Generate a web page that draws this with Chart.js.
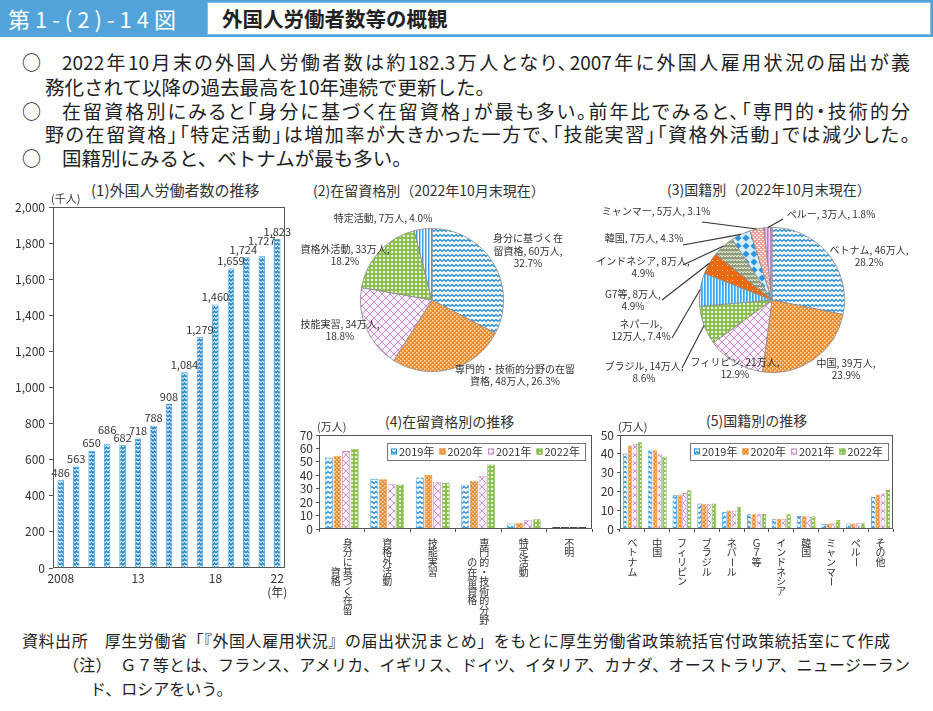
<!DOCTYPE html>
<html lang="ja">
<head>
<meta charset="utf-8">
<script src="https://cdn.jsdelivr.net/npm/chart.js@4.4.0/dist/chart.umd.min.js"></script>
<style>
body{margin:0;width:933px;height:711px;background:#fff;position:relative;overflow:hidden;font-family:"Noto Sans CJK JP","Noto Sans",sans-serif;color:#222}
.abs{position:absolute}
#hdr{left:0;top:0;width:933px;height:37px;background:#52a3da}
#hdrNo{left:8px;top:3px;color:#fff;font-size:22px;line-height:30px;letter-spacing:5px;white-space:nowrap}
#hdrBox{left:207px;top:2px;width:722px;height:31px;background:#fff;border:1px solid #7fbde6}
#hdrTitle{left:14px;top:0;font-size:20.5px;line-height:31px;font-weight:bold;white-space:nowrap}
.circ{left:22px;font-size:19px;line-height:24px}
.ln{font-size:19.5px;line-height:24px;white-space:nowrap}
.jl{font-size:19px;line-height:24px;white-space:nowrap;text-align:justify;text-align-last:justify;font-feature-settings:"palt"}
.ttl{font-size:14px;line-height:18px;color:#333;white-space:nowrap}
.ft{font-size:16px;line-height:24px;white-space:nowrap}
.ftj{font-size:16px;line-height:24px;white-space:nowrap;text-align:justify;text-align-last:justify}
canvas{position:absolute}
</style>
</head>
<body>
<div id="hdr" class="abs"><div id="hdrNo" class="abs">第1-(2)-14図</div><div id="hdrBox" class="abs"><div id="hdrTitle" class="abs">外国人労働者数等の概観</div></div></div>

<div class="abs circ" style="top:50px">○</div>
<div class="abs jl" style="left:62px;top:50px;width:848px">2022年10月末の外国人労働者数は約182.3万人となり、2007年に外国人雇用状況の届出が義</div>
<div class="abs ln" style="left:45px;top:75px">務化されて以降の過去最高を10年連続で更新した。</div>
<div class="abs circ" style="top:99px">○</div>
<div class="abs jl" style="left:62px;top:99px;width:848px">在留資格別にみると「身分に基づく在留資格」が最も多い。前年比でみると、「専門的・技術的分</div>
<div class="abs jl" style="left:45px;top:122px;width:865px">野の在留資格」「特定活動」は増加率が大きかった一方で、「技能実習」「資格外活動」では減少した。</div>
<div class="abs circ" style="top:146px">○</div>
<div class="abs ln" style="left:62px;top:146px">国籍別にみると、ベトナムが最も多い。</div>

<div class="abs ttl" style="left:91px;top:181px;font-size:15px">(1)外国人労働者数の推移</div>
<div class="abs ttl" style="left:313px;top:181px">(2)在留資格別（2022年10月末現在）</div>
<div class="abs ttl" style="left:667px;top:180px">(3)国籍別（2022年10月末現在）</div>
<div class="abs ttl" style="left:385px;top:412px">(4)在留資格別の推移</div>
<div class="abs ttl" style="left:706px;top:411px">(5)国籍別の推移</div>

<canvas id="c1" width="300" height="430" style="left:0;top:178px"></canvas>
<canvas id="c2" width="300" height="225" style="left:290px;top:178px"></canvas>
<canvas id="c3" width="343" height="225" style="left:590px;top:178px"></canvas>
<canvas id="c4" width="310" height="210" style="left:290px;top:415px"></canvas>
<canvas id="c5" width="338" height="210" style="left:595px;top:415px"></canvas>

<div class="abs ftj" style="left:22px;top:628px;width:868px">資料出所　厚生労働省「『外国人雇用状況』の届出状況まとめ」をもとに厚生労働省政策統括官付政策統括室にて作成</div>
<div class="abs ftj" style="left:63px;top:652px;width:847px">（注）　Ｇ７等とは、フランス、アメリカ、イギリス、ドイツ、イタリア、カナダ、オーストラリア、ニュージーラン</div>
<div class="abs ft" style="left:90px;top:676px">ド、ロシアをいう。</div>

<script>
const $ = id => document.getElementById(id);
const FONT = '"Noto Sans CJK JP","Noto Sans",sans-serif';
Chart.defaults.font.family = FONT;
Chart.defaults.color = '#333';

// (1) 外国人労働者数（千人）
const years = ['2008','2009','2010','2011','2012','2013','2014','2015','2016','2017','2018','2019','2020','2021','2022'];
const yearTicks = ['2008','','','','','13','','','','','18','','','',['22','(年)']];
const workers = [486,563,650,686,682,718,788,908,1084,1279,1460,1659,1724,1727,1823];
// ラベルが重なる所だけずらす（px）
const labelShift = { 3:[0,-7], 12:[-3,0], 13:[0,-8] };

// (2) 在留資格別 2022年10月末
const statusPieNames = ['身分に基づく在留資格','専門的・技術的分野の在留資格','技能実習','資格外活動','特定活動'];
const statusPieMan = [60,48,34,33,7];
const statusPiePct = [32.7,26.3,18.8,18.2,4.0];
const statusPieText = [
  ['身分に基づく在','留資格, 60万人,','32.7%'],
  ['専門的・技術的分野の在留','資格, 48万人, 26.3%'],
  ['技能実習, 34万人,','18.8%'],
  ['資格外活動, 33万人,','18.2%'],
  ['特定活動, 7万人, 4.0%']
];

// (3) 国籍別 2022年10月末
const natPieNames = ['ベトナム','中国','フィリピン','ブラジル','ネパール','G7等','インドネシア','韓国','ミャンマー','ペルー'];
const natPieMan = [46,39,21,14,12,8,8,7,5,3];
const natPiePct = [28.2,23.9,12.9,8.6,7.4,4.9,4.9,4.3,3.1,1.8];
const natPieText = [
  ['ベトナム, 46万人,','28.2%'],
  ['中国, 39万人,','23.9%'],
  ['フィリピン, 21万人,','12.9%'],
  ['ブラジル, 14万人,','8.6%'],
  ['ネパール,','12万人, 7.4%'],
  ['G7等, 8万人,','4.9%'],
  ['インドネシア, 8万人,','4.9%'],
  ['韓国, 7万人, 4.3%'],
  ['ミャンマー, 5万人, 3.1%'],
  ['ペルー, 3万人, 1.8%']
];

// (4) 在留資格別の推移（万人）
const seriesYears = ['2019年','2020年','2021年','2022年'];
const statusCats = ['身分に基づく在留資格','資格外活動','技能実習','専門的・技術的分野の在留資格','特定活動','不明'];
const statusTickCols = [['身分に基づく在留','資格'],['資格外活動'],['技能実習'],['専門的・技術的分野','の在留資格'],['特定活動'],['不明']];
const status2019 = [53.2,37.3,38.4,32.9,4.1,0.05];
const status2020 = [54.6,37.0,40.2,36.0,4.6,0.05];
const status2021 = [58.0,33.4,35.2,39.5,6.6,0.05];
const status2022 = [59.6,33.1,34.3,48.0,7.3,0.05];

// (5) 国籍別の推移（万人）
const nations = ['ベトナム','中国','フィリピン','ブラジル','ネパール','Ｇ７等','インドネシア','韓国','ミャンマー','ペルー','その他'];
const nat2019 = [40.1,41.8,17.9,13.5,9.2,7.8,5.2,6.9,2.7,2.9,17.1];
const nat2020 = [44.4,41.9,18.4,13.1,9.9,7.9,5.4,6.8,2.9,2.9,18.3];
const nat2021 = [45.3,39.7,19.1,13.4,9.8,7.9,5.3,6.7,3.1,3.1,18.9];
const nat2022 = [46.2,38.5,20.6,13.5,11.8,8.0,7.8,6.8,4.8,3.1,20.7];

// パターン
function tile(w, h, draw){
  const c = document.createElement('canvas'); c.width = w; c.height = h;
  const g = c.getContext('2d'); draw(g, w, h);
  return g.createPattern(c, 'repeat');
}
const PAT = {
  wave: tile(8,5,g=>{ g.fillStyle='#fff'; g.fillRect(0,0,8,5); g.strokeStyle='#2b8fd6'; g.lineWidth=1.3;
    g.beginPath(); g.moveTo(0,3.5); g.lineTo(2,1.5); g.lineTo(4,3.5); g.lineTo(6,1.5); g.lineTo(8,3.5); g.stroke(); }),
  waveBar: tile(6,4,g=>{ g.fillStyle='#e8f4fc'; g.fillRect(0,0,6,4); g.strokeStyle='#2789d2'; g.lineWidth=1.5;
    g.beginPath(); g.moveTo(0,3); g.lineTo(1.5,1); g.lineTo(3,3); g.lineTo(4.5,1); g.lineTo(6,3); g.stroke(); }),
  dots: tile(4,4,g=>{ g.fillStyle='#f08a2a'; g.fillRect(0,0,4,4); g.fillStyle='#fde2c4'; g.fillRect(0,0,1.5,1.5); g.fillRect(2,2,1.5,1.5); }),
  lattice: tile(8,8,g=>{ g.fillStyle='#fdf3fd'; g.fillRect(0,0,8,8); g.strokeStyle='#cf8ccf'; g.lineWidth=1;
    g.beginPath(); g.moveTo(0,0); g.lineTo(8,8); g.moveTo(8,0); g.lineTo(0,8); g.stroke(); }),
  grid: tile(4,4,g=>{ g.fillStyle='#8cc152'; g.fillRect(0,0,4,4); g.fillStyle='#eef7e4'; g.fillRect(1,1,2,2); }),
  vstripe: tile(3,3,g=>{ g.fillStyle='#fff'; g.fillRect(0,0,3,3); g.fillStyle='#3d9de0'; g.fillRect(0,0,1.5,3); }),
  nepal: tile(3,3,g=>{ g.fillStyle='#e4f4fd'; g.fillRect(0,0,3,3); g.fillStyle='#35a7ee'; g.fillRect(0,0,1.7,3); }),
  g7: tile(5,5,g=>{ g.fillStyle='#eb6a10'; g.fillRect(0,0,5,5); g.fillStyle='rgba(255,255,255,0.7)'; g.fillRect(2,2,1,1); }),
  indo: tile(6,4,g=>{ g.fillStyle='#8e9c78'; g.fillRect(0,0,6,4); g.strokeStyle='#eef0e6'; g.lineWidth=1;
    g.beginPath(); g.moveTo(0,3); g.lineTo(1.5,1); g.lineTo(3,3); g.lineTo(4.5,1); g.lineTo(6,3); g.stroke(); }),
  korea: tile(8,8,g=>{ g.fillStyle='#d5ecfa'; g.fillRect(0,0,8,8); g.fillStyle='#2c93de';
    g.beginPath(); g.moveTo(4,0.5); g.lineTo(7.5,4); g.lineTo(4,7.5); g.lineTo(0.5,4); g.closePath(); g.fill(); }),
  myanmar: tile(4,4,g=>{ g.fillStyle='#f4a39b'; g.fillRect(0,0,4,4); g.fillStyle='#fff'; g.fillRect(0,1,2,1); g.fillRect(2,3,2,1); }),
  peru: tile(3,3,g=>{ g.fillStyle='#efd5f0'; g.fillRect(0,0,3,3); g.fillStyle='#c274c8'; g.fillRect(0,0,1.5,3); })
};
const SERIES_FILL = [PAT.wave, PAT.dots, PAT.lattice, PAT.grid];
const SERIES_EDGE = ['#2b8fd6','#ef8b2c','#c98ac9','#7fb548'];

// 枠と単位
function boxPlugin(unit){
  return { id:'box', afterDraw(c){
    const a = c.chartArea, g = c.ctx;
    g.save();
    g.strokeStyle = '#555'; g.lineWidth = 1;
    g.strokeRect(Math.round(a.left)+0.5, Math.round(a.top)+0.5, Math.round(a.right-a.left)-1, Math.round(a.bottom-a.top)-1);
    g.fillStyle = '#333'; g.font = '11px '+FONT; g.textBaseline = 'bottom';
    g.fillText(unit, a.left-2, a.top-3);
    g.restore();
  }};
}

// 縦書きの項目名
const STEP = 9.6;
function vertLabels(cols){
  return { id:'vlab', afterDraw(c){
    const g = c.ctx, x = c.scales.x, top = c.chartArea.bottom + 9;
    g.save(); g.font = '10px '+FONT; g.fillStyle = '#333'; g.textAlign = 'center'; g.textBaseline = 'top';
    cols.forEach((cs, i) => {
      const cx = x.getPixelForValue(i);
      const n = Math.max(...cs.map(s => [...s].length));
      cs.forEach((s, k) => {
        const colX = cx + ((cs.length-1)/2 - k) * 12;
        const chars = [...s];
        const y0 = top + (n - chars.length) * STEP / 2;
        chars.forEach((ch, j) => {
          const y = y0 + j*STEP;
          if (ch === 'ー') {
            g.save(); g.translate(colX, y + 5); g.rotate(Math.PI/2); g.textBaseline = 'middle'; g.fillText(ch, 0, 0); g.restore();
          } else g.fillText(ch, colX, y);
        });
      });
    });
    g.restore();
  }};
}

// 枠付き凡例
function boxLegend(dx, dy){
  return { id:'blg', afterDraw(c){
    const g = c.ctx, a = c.chartArea, ds = c.data.datasets;
    const itemW = 48.5, w = itemW*ds.length + 4, h = 17;
    const x0 = a.right - dx - w, y0 = a.top + dy;
    g.save();
    g.fillStyle = '#fff'; g.fillRect(x0, y0, w, h);
    g.strokeStyle = '#777'; g.lineWidth = 1; g.strokeRect(x0+0.5, y0+0.5, w, h);
    g.font = '11px '+FONT; g.textBaseline = 'middle'; g.fillStyle = '#333';
    ds.forEach((d, i) => {
      const ix = x0 + 4 + i*itemW;
      g.fillStyle = SERIES_FILL[i]; g.fillRect(ix, y0+h/2-3, 6, 6);
      g.strokeStyle = SERIES_EDGE[i]; g.strokeRect(ix+0.5, y0+h/2-2.5, 5, 5);
      g.fillStyle = '#333'; g.fillText(d.label, ix+8, y0+h/2+0.5);
    });
    g.restore();
  }};
}

// 円グラフのラベル
function pieLabels(lines, pos, leaders){
  return { id:'plab', afterDraw(c){
    const g = c.ctx, arcs = c.getDatasetMeta(0).data;
    g.save(); g.font = '10px '+FONT; g.fillStyle = '#333'; g.textAlign = 'center'; g.textBaseline = 'middle';
    arcs.forEach((a, i) => {
      if (leaders && leaders[i]) {
        const mid = (a.startAngle + a.endAngle)/2;
        const ex = a.x + Math.cos(mid)*a.outerRadius, ey = a.y + Math.sin(mid)*a.outerRadius;
        g.beginPath(); g.moveTo(a.x + leaders[i][0], a.y + leaders[i][1]); g.lineTo(ex, ey);
        g.strokeStyle = '#333'; g.lineWidth = 1.1; g.stroke();
      }
      const cx = a.x + pos[i][0], cy = a.y + pos[i][1];
      lines[i].forEach((t, k) => g.fillText(t, cx, cy + (k - (lines[i].length-1)/2)*12.5));
    });
    g.restore();
  }};
}

const base = { responsive:false, animation:false, events:[], plugins:{ legend:{display:false}, tooltip:{enabled:false} } };

// (1)
new Chart($('c1'), {
  type:'bar',
  data:{ labels:years, datasets:[{ data:workers, backgroundColor:PAT.waveBar, borderColor:'#2b8fd6', borderWidth:0.8, barPercentage:0.42, categoryPercentage:1 }] },
  options:{ ...base,
    layout:{ padding:{ left:0, right:15, top:29, bottom:0 } },
    scales:{
      x:{ grid:{ display:false, drawTicks:false }, border:{ display:false },
          ticks:{ autoSkip:false, maxRotation:0, padding:4, font:{size:12, lineHeight:1.15}, callback:(v,i)=>yearTicks[i] },
          afterFit:s=>{ s.height = 40; } },
      y:{ min:0, max:2000, border:{ display:false },
          grid:{ drawOnChartArea:false, tickLength:4, color:'#555' },
          ticks:{ stepSize:200, autoSkip:false, padding:4, font:{size:12}, callback:v=>v.toLocaleString('en-US') },
          afterFit:s=>{ s.width = 53; } }
    } },
  plugins:[ boxPlugin('(千人)'), { id:'vals', afterDatasetsDraw(c){
    const g = c.ctx, m = c.getDatasetMeta(0);
    g.save(); g.font = '11px '+FONT; g.fillStyle = '#333'; g.textAlign = 'center'; g.textBaseline = 'bottom';
    m.data.forEach((b, i) => {
      const [dx, dy] = labelShift[i] || [0, 0];
      g.fillText(workers[i].toLocaleString('en-US'), b.x + dx, b.y - 2 + dy);
    });
    g.restore();
  } } ]
});

// (2)
new Chart($('c2'), {
  type:'pie',
  data:{ labels:statusPieNames, datasets:[{ data:statusPiePct,
    backgroundColor:[PAT.wave, PAT.dots, PAT.lattice, PAT.grid, PAT.vstripe], borderColor:'#8a8a8a', borderWidth:0.8 }] },
  options:{ ...base, layout:{ padding:{ left:70, right:86, top:50, bottom:31 } } },
  plugins:[ pieLabels(statusPieText, [[96,-49],[83,75],[-92,30],[-87,-45],[-49,-82]], null) ]
});

// (3)
new Chart($('c3'), {
  type:'pie',
  data:{ labels:natPieNames, datasets:[{ data:natPiePct,
    backgroundColor:[PAT.wave, PAT.dots, PAT.lattice, PAT.grid, PAT.nepal, PAT.g7, PAT.indo, PAT.korea, PAT.myanmar, PAT.peru],
    borderColor:'#8a8a8a', borderWidth:0.8 }] },
  options:{ ...base, layout:{ padding:{ left:109, right:88, top:49, bottom:30 } } },
  plugins:[ pieLabels(natPieText,
    [[97,-44],[74,69],[-37,68],[-128,72],[-131,30],[-139,0],[-129,-33],[-128,-62],[-116,-89],[59,-86]],
    [null,null,null,[-90,68],[-100,38],[-110,0],[-89,-35],[-89,-55],[-70,-78],[11,-81]]) ]
});

// (4)(5)
function groupChart(id, cats, cols, series, max, dims){
  return new Chart($(id), {
    type:'bar',
    data:{ labels:cats, datasets:series.map((d, i) => ({
      label:seriesYears[i], data:d,
      backgroundColor:ctx => (cats[ctx.dataIndex] === '不明' ? '#222' : SERIES_FILL[i]),
      borderColor:ctx => (cats[ctx.dataIndex] === '不明' ? '#222' : SERIES_EDGE[i]),
      borderWidth:0.8, minBarLength:2, barPercentage:0.92, categoryPercentage:dims.cat })) },
    options:{ ...base,
      layout:{ padding:{ left:0, right:dims.right, top:20, bottom:0 } },
      scales:{
        x:{ grid:{ display:true, drawOnChartArea:false, tickLength:3, color:'#555', offset:true }, border:{ display:false },
            ticks:{ display:false }, afterFit:s=>{ s.height = 96; } },
        y:{ min:0, max:max, border:{ display:false },
            grid:{ drawOnChartArea:false, tickLength:3, color:'#555' },
            ticks:{ stepSize:10, autoSkip:false, padding:3, font:{size:12} },
            afterFit:s=>{ s.width = dims.yw; } }
      } },
    plugins:[ boxPlugin('(万人)'), vertLabels(cols), boxLegend(dims.ldx, 8) ]
  });
}
groupChart('c4', statusCats, statusTickCols, [status2019,status2020,status2021,status2022], 70, { right:8, yw:29, cat:0.76, ldx:7 });
groupChart('c5', nations, nations.map(n => [n]), [nat2019,nat2020,nat2021,nat2022], 50, { right:40, yw:25, cat:0.78, ldx:5 });
</script>
</body>
</html>
